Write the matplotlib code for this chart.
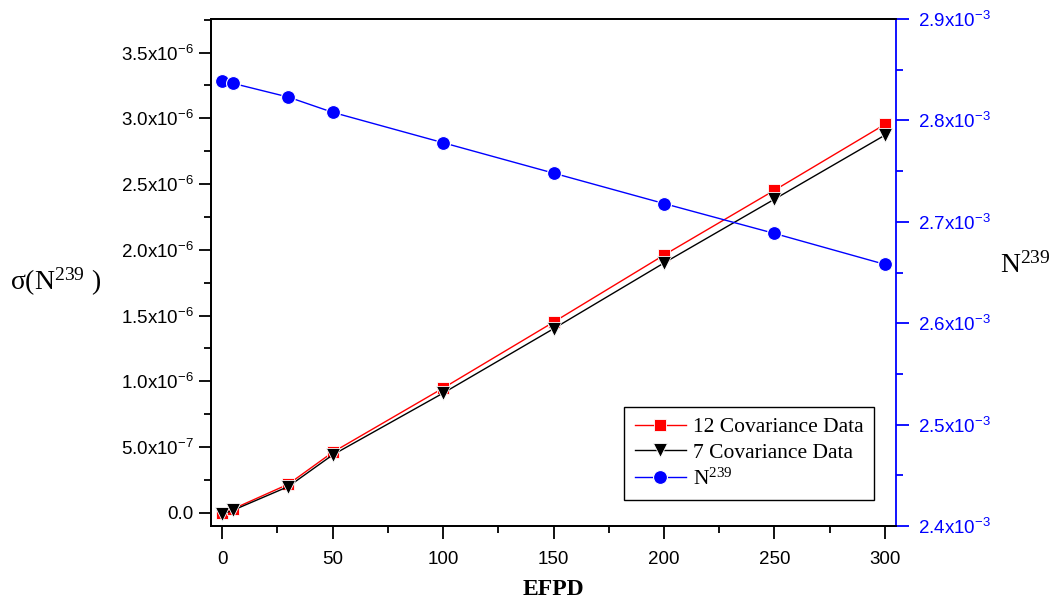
import matplotlib
matplotlib.use("Agg")
import matplotlib.pyplot as plt
from matplotlib.ticker import MultipleLocator, FuncFormatter

# Data
efpd = [0, 5, 30, 50, 100, 150, 200, 250, 300]
sigma_12 = [0.0, 0.03e-6, 0.218e-6, 0.46e-6, 0.948e-6, 1.45e-6, 1.96e-6, 2.453e-6, 2.954e-6]
sigma_7 = [-0.01e-6, 0.02e-6, 0.20e-6, 0.44e-6, 0.91e-6, 1.40e-6, 1.90e-6, 2.385e-6, 2.872e-6]
n239 = [2.839e-3, 2.8365e-3, 2.823e-3, 2.808e-3, 2.778e-3, 2.748e-3, 2.718e-3, 2.6885e-3, 2.658e-3]

plt.rcParams["font.family"] = "Liberation Sans"
plt.rcParams["mathtext.default"] = "regular"

fig = plt.figure(figsize=(10.56, 6.03), dpi=100)
ax = fig.add_axes([211 / 1056, 1 - 526 / 603, 685 / 1056, 507 / 603])
ax2 = ax.twinx()


def sci_fmt(v, pos):
    if abs(v) < 1e-15:
        return "0.0"
    exp = 0
    m = v
    while abs(m) < 1:
        m *= 10
        exp -= 1
    return r"$\mathregular{%.1fx10^{%d}}$" % (m, exp)


l1, = ax.plot(efpd, sigma_12, color="red", lw=1, marker="s", ms=8,
              mec="white", mew=0.6, label="12 Covariance Data")
l2, = ax.plot(efpd, sigma_7, color="black", lw=1, marker="v", ms=10,
              mec="white", mew=0.6, label="7 Covariance Data")
l3, = ax2.plot(efpd, n239, color="blue", lw=1, marker="o", ms=10,
               mec="white", mew=0.8, label=r"N$^{239}$")

ax.set_xlim(-5, 305)
ax.set_ylim(-0.1e-6, 3.755e-6)
ax2.set_ylim(2.4e-3, 2.9e-3)

ax.xaxis.set_major_locator(MultipleLocator(50))
ax.xaxis.set_minor_locator(MultipleLocator(25))
ax.yaxis.set_major_locator(MultipleLocator(0.5e-6))
ax.yaxis.set_minor_locator(MultipleLocator(0.25e-6))
ax.yaxis.set_major_formatter(FuncFormatter(sci_fmt))
ax2.yaxis.set_major_locator(MultipleLocator(0.1e-3))
ax2.yaxis.set_minor_locator(MultipleLocator(0.05e-3))
ax2.yaxis.set_major_formatter(FuncFormatter(sci_fmt))

ax.tick_params(axis="both", which="major", direction="out", length=9, width=1.3, labelsize=13.5)
ax.tick_params(axis="both", which="minor", direction="out", length=5, width=1.3)
ax.tick_params(axis="x", pad=9)
ax2.tick_params(axis="y", which="major", direction="out", length=9, width=1.3,
                labelsize=13.5, colors="blue", pad=7)
ax2.tick_params(axis="y", which="minor", direction="out", length=5, width=1.3, colors="blue")
ax2.tick_params(axis="x", which="both", top=True, bottom=False, labeltop=False,
                labelbottom=False, direction="in", width=1.3)
ax2.tick_params(axis="x", which="major", length=9)
ax2.tick_params(axis="x", which="minor", length=5)

for s in ax.spines.values():
    s.set_linewidth(1.3)
for s in ax2.spines.values():
    s.set_linewidth(1.3)
ax2.spines["right"].set_color("blue")
ax.spines["right"].set_visible(False)

ax.set_xlabel("EFPD", fontfamily="Liberation Serif", fontweight="bold", fontsize=17, labelpad=8)
fig.text(10 / 1056, 1 - 282 / 603, r"σ(N$^{239}$ )", fontfamily="Liberation Serif",
         fontsize=20, va="center", ha="left")
fig.text(1000 / 1056, 1 - 265 / 603, r"N$^{239}$", fontfamily="Liberation Serif",
         fontsize=20, va="center", ha="left")

leg = ax2.legend(handles=[l1, l2, l3], loc="lower right", bbox_to_anchor=(0.968, 0.051),
                 prop={"family": "Liberation Serif", "size": 15.5}, fancybox=False,
                 edgecolor="black", framealpha=1, borderpad=0.5, handlelength=2.4,
                 handletextpad=0.3, labelspacing=0.25, borderaxespad=0)
leg.get_frame().set_linewidth(1)

fig.savefig("out.png", dpi=100)
